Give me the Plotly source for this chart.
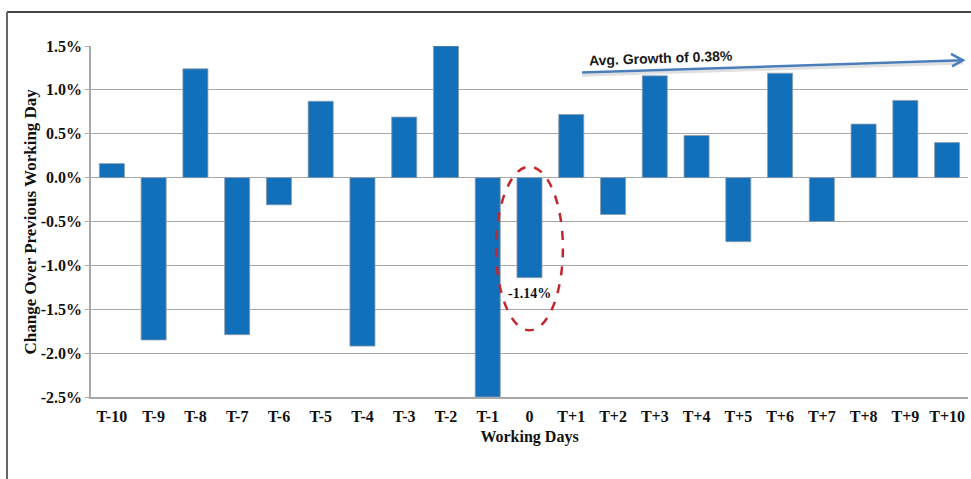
import plotly.graph_objects as go

# Daily change (%) around the event day
days = ["T-10", "T-9", "T-8", "T-7", "T-6", "T-5", "T-4", "T-3", "T-2", "T-1", "0",
        "T+1", "T+2", "T+3", "T+4", "T+5", "T+6", "T+7", "T+8", "T+9", "T+10"]
change_pct = [0.16, -1.85, 1.24, -1.79, -0.31, 0.87, -1.92, 0.69, 1.50, -2.50, -1.14,
              0.72, -0.42, 1.16, 0.48, -0.73, 1.19, -0.50, 0.61, 0.88, 0.40]
y_ticks = [-2.5, -2.0, -1.5, -1.0, -0.5, 0.0, 0.5, 1.0, 1.5]

event_idx = days.index("0")
post_vals = change_pct[event_idx + 1:]
avg_growth = sum(post_vals) / len(post_vals)

BAR = "#1170b9"
GRID = "#a8a8a8"
serif = "Liberation Serif"

fig = go.Figure(go.Bar(
    x=days, y=change_pct,
    marker=dict(color=BAR, line=dict(color="#8f9cab", width=0.8)),
    width=0.6,
    hoverinfo="x+y",
))

fig.update_layout(
    width=971, height=479,
    margin=dict(l=91, r=3, t=46, b=82),
    paper_bgcolor="white", plot_bgcolor="white",
    showlegend=False,
    font=dict(family=serif, color="#1a1a1a"),
)

fig.update_xaxes(
    type="category",
    range=[-0.5, len(days) - 0.5],
    showgrid=False,
    showline=True, linecolor=GRID, linewidth=1.5,
    ticks="outside", ticklen=4, tickcolor="rgba(0,0,0,0)",
    tickvals=days,
    ticktext=[f"<b>{d}</b>" for d in days],
    tickfont=dict(family=serif, size=16, color="#111"),
    title=dict(text="<b>Working Days</b>", font=dict(family=serif, size=16, color="#111"), standoff=7),
)

fig.update_yaxes(
    range=[-2.5, 1.5],
    tickvals=y_ticks,
    ticktext=[f"<b>{v:.1f}%</b>" for v in y_ticks],
    showgrid=True, gridcolor=GRID, gridwidth=1.2,
    zeroline=False,
    showline=True, linecolor=GRID, linewidth=1.5,
    ticks="outside", ticklen=4, tickcolor=GRID,
    tickfont=dict(family=serif, size=16, color="#111"),
)

# Y-axis title placed as a rotated annotation
fig.add_annotation(xref="paper", yref="paper", x=-0.0695, y=0.5, xanchor="center", yanchor="middle",
                   text="<b>Change Over Previous Working Day</b>", textangle=-90, showarrow=False,
                   font=dict(family=serif, size=17, color="#111"))

# Outer frame (left and top edges)
fig.add_shape(type="line", xref="paper", yref="paper", x0=-0.0958, x1=1.03, y0=1.0969, y1=1.0969,
              line=dict(color="#444", width=2))
fig.add_shape(type="line", xref="paper", yref="paper", x0=-0.0958, x1=-0.0958, y0=1.0969, y1=-0.3,
              line=dict(color="#666", width=2))

# Dashed ellipse highlighting the event day
fig.add_shape(type="circle", xref="x", yref="y",
              x0=event_idx - 0.8, x1=event_idx + 0.8, y0=-1.74, y1=0.125,
              line=dict(color="#c1272d", width=2.5, dash="dash"))

fig.add_annotation(x=event_idx, y=change_pct[event_idx], xref="x", yref="y",
                   text=f"<b>{change_pct[event_idx]:.2f}%</b>", showarrow=False,
                   yshift=-16, font=dict(family=serif, size=14, color="#111"))

# Trend arrow for the post-event period
ax0, ay0, ax1, ay1 = 11.26, 1.197, 20.38, 1.337
fig.add_shape(type="line", xref="x", yref="y", x0=ax0, y0=ay0 - 0.03, x1=ax1, y1=ay1 - 0.03,
              line=dict(color="rgba(0,0,0,0.12)", width=3))
fig.add_shape(type="line", xref="x", yref="y", x0=ax0, y0=ay0, x1=ax1, y1=ay1,
              line=dict(color="#4a7ebb", width=2.5))
fig.add_shape(type="path", xref="x", yref="y", xsizemode="pixel", ysizemode="pixel",
              xanchor=ax1, yanchor=ay1, path="M-12,6.5 L0,0 L-11,-6",
              line=dict(color="#4a7ebb", width=2.5))
fig.add_annotation(x=13.15, y=1.36, xref="x", yref="y",
                   text=f"<b>Avg. Growth of {avg_growth:.2f}%</b>", showarrow=False,
                   textangle=-2, font=dict(family="Liberation Sans", size=14, color="#1a1a1a"))

fig.write_html("out.html")
